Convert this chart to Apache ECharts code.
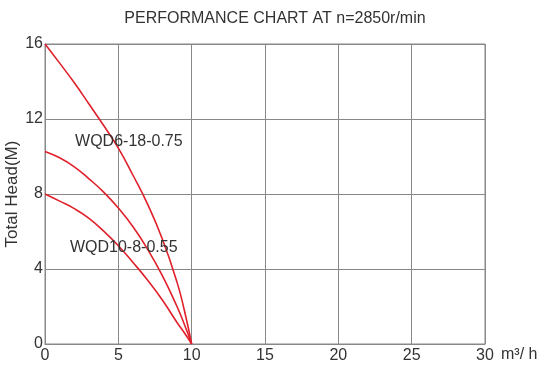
<!DOCTYPE html>
<html><head><meta charset="utf-8">
<script src="https://cdn.jsdelivr.net/npm/echarts@6/dist/echarts.min.js"></script>
<style>html,body{margin:0;padding:0;background:#fff}#c{width:544px;height:368px}</style>
</head><body><div id="c"></div>
<script>
var flowX = [0, 1, 2, 3, 4, 5, 6, 7, 8, 9, 9.5, 10];
var headWQD6 = [16, 14.98, 13.93, 12.8, 11.65, 10.45, 9.0, 7.45, 5.6, 3.3, 1.8, 0];
var headMid = [10.27, 9.93, 9.45, 8.81, 8.1, 7.25, 6.25, 5.05, 3.65, 2.0, 1.05, 0];
var headWQD10 = [8, 7.62, 7.22, 6.7, 6.02, 5.24, 4.35, 3.4, 2.35, 1.15, 0.6, 0];
var seriesNames = ['WQD6-18-0.75', 'mid', 'WQD10-8-0.55'];
var labelTexts = ['WQD6-18-0.75', 'WQD10-8-0.55'];
var labelAt = [[2.05, 10.77], [1.7, 5.12]];
var xTicks = [0, 5, 10, 15, 20, 25, 30];
var yTicks = [0, 4, 8, 12, 16];

function pairs(ys){ return flowX.map(function(x,i){return [x, ys[i]];}); }
var font = 'Liberation Sans, Arial, sans-serif';
var chart = echarts.init(document.getElementById('c'), null, {renderer:'canvas'});
function lineSeries(name, ys, lab){
  var s = {
    name: name, type: 'line', data: pairs(ys), smooth: 0.5, showSymbol: false, symbol: 'none',
    lineStyle: {color: '#e0202a', width: 1.6}, silent: true, z: 3
  };
  if (lab){
    s.markPoint = {symbol: 'circle', symbolSize: 0, silent: true,
      data: [{coord: lab.coord, label: {show: true, formatter: lab.text, position: 'right', distance: 0,
        color: '#333', fontSize: 16, fontFamily: font}}]};
  }
  return s;
}
chart.setOption({
  animation: false,
  backgroundColor: '#fff',
  title: {text: 'PERFORMANCE CHART AT n=2850r/min', left: 270, top: 6, textAlign: 'center',
    textStyle: {fontSize: 16, fontWeight: 'normal', color: '#333', fontFamily: font}},
  grid: {left: 45, right: 59, top: 44, bottom: 24, show: true, borderColor: '#888', borderWidth: 1,
    containLabel: false, outerBoundsMode: 'none'},
  xAxis: {type: 'value', min: 0, max: 30, interval: 5,
    name: 'm³/ h', nameLocation: 'end', nameGap: 16, nameMoveOverlap: false,
    nameTextStyle: {color: '#333', fontSize: 16, fontFamily: font, verticalAlign: 'top', padding: [3,0,0,0]},
    axisLine: {show: true, lineStyle: {color: '#888'}}, axisTick: {show: false},
    axisLabel: {color: '#333', fontSize: 16, fontFamily: font, margin: 4,
      formatter: function(v){ return xTicks.indexOf(v) >= 0 ? String(v) : ''; }},
    splitLine: {show: true, lineStyle: {color: '#888', width: 1}}},
  yAxis: {type: 'value', min: 0, max: 16, interval: 4,
    name: 'Total Head(M)', nameLocation: 'middle', nameGap: 24, nameRotate: 90, nameMoveOverlap: false,
    nameTextStyle: {color: '#333', fontSize: 17, fontFamily: font},
    axisLine: {show: true, lineStyle: {color: '#888'}}, axisTick: {show: false},
    axisLabel: {color: '#333', fontSize: 16, fontFamily: font, margin: 2,
      formatter: function(v){ return yTicks.indexOf(v) >= 0 ? String(v) : ''; }},
    splitLine: {show: true, lineStyle: {color: '#888', width: 1}}},
  series: [
    lineSeries(seriesNames[0], headWQD6, {coord: labelAt[0], text: labelTexts[0]}),
    lineSeries(seriesNames[1], headMid, null),
    lineSeries(seriesNames[2], headWQD10, {coord: labelAt[1], text: labelTexts[1]})
  ]
});
</script></body></html>
